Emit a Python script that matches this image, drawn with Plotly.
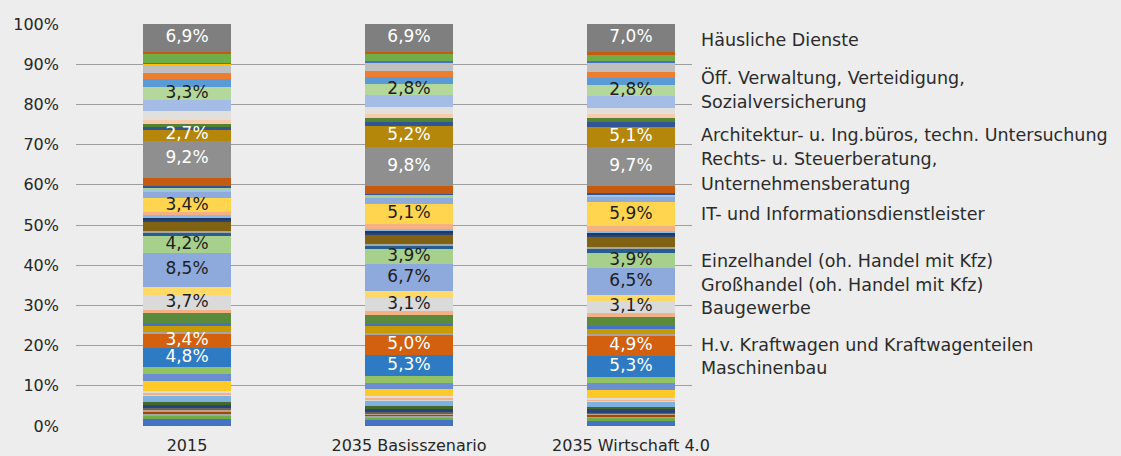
import plotly.graph_objects as go

categories = ["2015", "2035 Basisszenario", "2035 Wirtschaft 4.0"]

# segment colours, bottom to top
seg_colors = [
    "#4472C4", "#70AD47", "#A5A5A5", "#9E480E", "#C0A080", "#636363", "#264478", "#43682B",
    "#7EB1DE", "#D9D9D9", "#F4B183", "#DDDDDD", "#FFCA28", "#6A8ECF", "#93C264", "#2E7BC4",
    "#D2600F", "#A5A5A5", "#C89A00", "#4472C4", "#5A8A3C", "#F4B183", "#DADADA", "#FFD966",
    "#8EA9DB", "#A8D08D", "#255E91", "#A5A5A5", "#7F6212", "#264478", "#1F3864", "#8DB9E2",
    "#F4B183", "#FFD550", "#8FAADC", "#9DC3E6", "#A9D18E", "#2F5597", "#C55A11", "#8F8F8F",
    "#B4860A", "#2F5597", "#548235", "#F8CBAD", "#E2E0DA", "#A4BCE6", "#B4D79C", "#5B9BD5",
    "#ED7D31", "#BFBFBF", "#FFC000", "#4472C4", "#70AD47", "#C55A11", "#7F7F7F",
]

# shares in %, bottom to top
v2015 = [
    1.7, 0.8, 0.5, 0.5, 0.5, 0.5, 0.8, 0.6,
    1.6, 0.2, 0.5, 0.6, 2.3, 1.8, 1.8, 4.8,
    3.4, 0.6, 1.3, 0.7, 2.5, 0.9, 3.7, 1.9,
    8.5, 4.2, 1.0, 0.4, 2.1, 0.6, 0.5, 0.6,
    0.8, 3.4, 1.7, 0.6, 0.4, 0.5, 2.0, 9.2,
    2.7, 0.8, 0.7, 1.0, 2.2, 2.6, 3.3, 1.9,
    1.5, 2.1, 0.3, 0.3, 2.3, 0.4, 6.9,
]
vBasis = [
    1.4, 0.8, 0.3, 0.4, 0.3, 0.2, 0.9, 0.6,
    1.4, 0.2, 0.4, 0.5, 1.9, 1.5, 1.6, 5.3,
    5.0, 0.4, 1.7, 0.6, 2.1, 1.2, 3.1, 1.7,
    6.7, 3.9, 0.9, 0.3, 2.3, 0.5, 0.4, 0.6,
    1.1, 5.1, 1.5, 0.4, 0.3, 0.3, 1.9, 9.8,
    5.2, 0.9, 0.9, 1.0, 1.9, 2.9, 2.8, 1.6,
    1.5, 2.0, 0.3, 0.3, 1.8, 0.5, 6.9,
]
vW40 = [
    1.3, 0.8, 0.3, 0.4, 0.3, 0.2, 0.9, 0.5,
    1.4, 0.2, 0.4, 0.3, 2.0, 1.6, 1.6, 5.3,
    4.9, 0.4, 1.4, 0.6, 2.2, 1.1, 3.1, 1.5,
    6.5, 3.9, 1.1, 0.4, 2.5, 0.5, 0.4, 0.6,
    1.1, 5.9, 1.4, 0.4, 0.3, 0.3, 1.7, 9.7,
    5.1, 1.1, 0.9, 1.1, 1.6, 2.8, 2.8, 1.7,
    1.6, 2.0, 0.3, 0.3, 1.7, 0.6, 7.0,
]

# labelled segments (0-based index) and their text colours
label_segments = [15, 16, 22, 24, 25, 33, 39, 40, 46, 54]
label_colors = ["white", "white", "#1E1E1E", "#1E1E1E", "#1E1E1E", "#1E1E1E",
                "white", "white", "#1E1E1E", "white"]

y_ticks = list(range(0, 101, 10))
y_tick_text = [f"{t}%" for t in y_ticks]

right_labels = [
    "Häusliche Dienste",
    "Öff. Verwaltung, Verteidigung,",
    "Sozialversicherung",
    "Architektur- u. Ing.büros, techn. Untersuchung",
    "Rechts- u. Steuerberatung,",
    "Unternehmensberatung",
    "IT- und Informationsdienstleister",
    "Einzelhandel (oh. Handel mit Kfz)",
    "Großhandel (oh. Handel mit Kfz)",
    "Baugewerbe",
    "H.v. Kraftwagen und Kraftwagenteilen",
    "Maschinenbau",
]
right_label_y = [96.0, 86.6, 80.6, 72.3, 66.3, 60.1, 52.8, 41.0, 35.2, 29.3, 20.2, 14.4]

FONT = "DejaVu Sans"
series = [v2015, vBasis, vW40]

fig = go.Figure()
for i, col in enumerate(seg_colors):
    fig.add_trace(go.Bar(
        x=categories, y=[s[i] for s in series],
        marker=dict(color=col, line=dict(width=0)),
        showlegend=False, hoverinfo="skip",
    ))

# value labels at segment centres
for k, seg in enumerate(label_segments):
    ys, txt = [], []
    for s in series:
        ys.append(sum(s[:seg]) + s[seg] / 2)
        txt.append(f"{s[seg]:.1f}".replace(".", ",") + "%")
    fig.add_trace(go.Scatter(
        x=categories, y=ys, mode="text", text=txt,
        textfont=dict(family=FONT, size=17, color=label_colors[k]),
        showlegend=False, hoverinfo="skip", cliponaxis=False,
    ))

for t, y in zip(right_labels, right_label_y):
    fig.add_annotation(
        x=1.0115, xref="paper", y=y, yref="y", text=t, showarrow=False,
        xanchor="left", yanchor="middle",
        font=dict(family=FONT, size=17.5, color="#2B2B2B"),
    )

fig.update_layout(
    width=1121, height=456,
    margin=dict(l=76, r=429, t=24, b=30, autoexpand=False),
    paper_bgcolor="#EDEDED", plot_bgcolor="#EDEDED",
    barmode="stack", bargap=0.6,
    font=dict(family=FONT, size=16, color="#262626"),
)
fig.update_xaxes(range=[-0.5, 2.275], showgrid=False, showline=False, zeroline=False,
                 ticks="", ticklabelstandoff=8, automargin=False,
                 tickfont=dict(family=FONT, size=16, color="#262626"))
fig.update_yaxes(range=[0, 100], tickmode="array", tickvals=y_ticks, ticktext=y_tick_text,
                 showgrid=True, gridcolor="#9E9E9E", gridwidth=1, zeroline=False,
                 showline=False, ticklabelstandoff=16, automargin=False,
                 tickfont=dict(family=FONT, size=16, color="#262626"))

fig.write_html(
    "out.html",
    config={"displayModeBar": False},
    post_script="document.body.style.margin='0';document.body.style.padding='0';"
                "document.body.style.background='#EDEDED';",
)
